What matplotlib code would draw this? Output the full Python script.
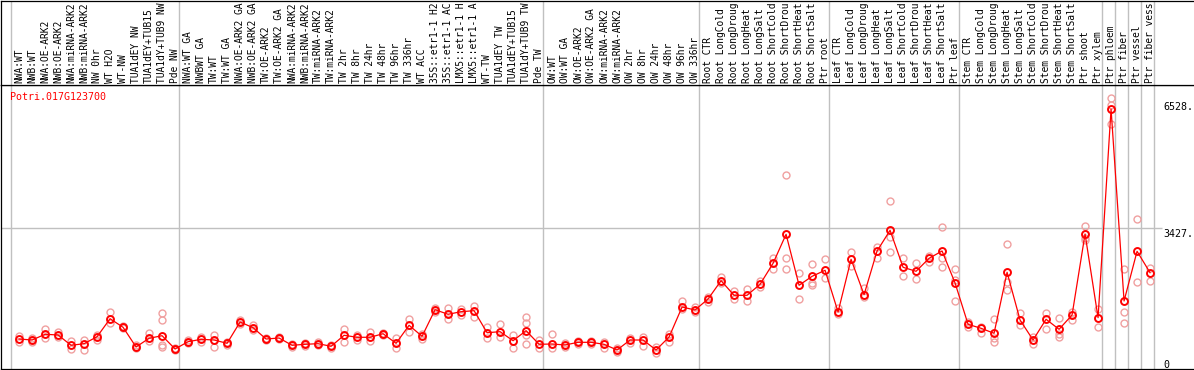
import matplotlib
matplotlib.use("Agg")
import matplotlib.pyplot as plt

gene = "Potri.017G123700"

# column labels as shown in the header (cut to 14 characters there)
labels = [
    # group 1
    "NWA:WT", "NWB:WT", "NWA:OE-ARK2", "NWB:OE-ARK2", "NWA:miRNA-ARK2",
    "NWB:miRNA-ARK2", "NW 0hr", "WT H2O", "WT-NW", "TUA1dEY NW",
    "TUA1dEY+TUB15", "TUA1dY+TUB9 NW", "Pde NW",
    # group 2
    "NWA:WT GA", "NWBWT GA", "TW:WT", "TW:WT GA", "NWA:OE-ARK2 GA",
    "NWB:OE-ARK2 GA", "TW:OE-ARK2", "TW:OE-ARK2 GA", "NWA:miRNA-ARK2",
    "NWB:miRNA-ARK2", "TW:miRNA-ARK2", "TW:miRNA-ARK2", "TW 2hr",
    "TW 8hr", "TW 24hr", "TW 48hr", "TW 96hr", "TW 336hr", "WT ACC",
    "35S::etr1-1 H2", "35S::etr1-1 AC", "LMX5::etr1-1 H",
    "LMX5::etr1-1 A", "WT-TW", "TUA1dEY TW", "TUA1dEY+TUB15",
    "TUA1dY+TUB9 TW", "Pde TW",
    # group 3
    "OW:WT", "OW:WT GA", "OW:OE-ARK2", "OW:OE-ARK2 GA", "OW:miRNA-ARK2",
    "OW:miRNA-ARK2", "OW 2hr", "OW 8hr", "OW 24hr", "OW 48hr", "OW 96hr",
    "OW 336hr",
    # root
    "Root CTR", "Root LongCold", "Root LongDroug", "Root LongHeat",
    "Root LongSalt", "Root ShortCold", "Root ShortDrou", "Root ShortHeat",
    "Root ShortSalt", "Ptr root",
    # leaf
    "Leaf CTR", "Leaf LongCold", "Leaf LongDroug", "Leaf LongHeat",
    "Leaf LongSalt", "Leaf ShortCold", "Leaf ShortDrou", "Leaf ShortHeat",
    "Leaf ShortSalt", "Ptr leaf",
    # stem
    "Stem CTR", "Stem LongCold", "Stem LongDroug", "Stem LongHeat",
    "Stem LongSalt", "Stem ShortCold", "Stem ShortDrou", "Stem ShortHeat",
    "Stem ShortSalt", "Ptr shoot", "Ptr xylem",
    # single tissues
    "Ptr phloem", "Ptr fiber", "Ptr vessel", "Ptr fiber vess",
]

# column index where each group starts (plus the end)
group_edges = [0, 13, 41, 53, 63, 73, 84, 85, 86, 87, 88]

means = [
    534, 508, 657, 639, 370, 412, 594, 1063, 839, 326, 553, 620, 274,
    464, 526, 508, 422, 977, 829, 534, 560, 370, 396, 412, 344, 631, 579,
    579, 672, 422, 891, 605, 1298, 1178, 1246, 1272, 698, 725, 490, 751, 396,
    404, 378, 448, 448, 396, 248, 508, 508, 248, 586, 1368, 1290,
    1577, 2054, 1673, 1673, 1960, 2507, 3263, 1934, 2168, 2325,
    1238, 2611, 1689, 2828, 3367, 2403, 2299, 2637, 2828, 1994,
    917, 813, 683, 2273, 1029, 508, 1048, 787, 1160, 3271, 1089,
    6528, 1525, 2820, 2262,
]

replicates = [
    [620, 464], [568, 464], [795, 553], [709, 594], [482, 274], [508, 248],
    [639, 500], [1230, 943], [881, 813], [378, 308], [683, 482],
    [1204, 1029, 378, 334], [308, 248],
    [508, 422], [594, 464], [639, 334], [464, 378], [1029, 917], [899, 769],
    [568, 500], [594, 526], [396, 326], [430, 360], [448, 378], [378, 308],
    [787, 448], [639, 508], [725, 482], [698, 639], [553, 308], [1056, 725],
    [657, 534], [1350, 1246], [1334, 1048], [1316, 1160], [1402, 1115],
    [855, 568], [917, 594], [639, 308], [1115, 943, 639, 396], [508, 292],
    [657, 292], [422, 334], [482, 412], [482, 412], [448, 308], [308, 203],
    [568, 422], [594, 360], [334, 162], [657, 448], [1525, 1316], [1376, 1230],
    [1637, 1506], [2158, 1986], [1793, 1569], [1830, 1532], [2054, 1897],
    [2653, 2359], [4801, 2637, 2351], [2262, 1569], [2481, 1986, 1942],
    [2611, 2116],
    [1334, 1186], [2794, 2437], [1856, 1637], [2924, 2653], [4123, 3200, 2794],
    [2637, 2168], [2507, 2090], [2697, 2549], [3445, 2637, 2403],
    [2351, 2072, 1525],
    [985, 855], [855, 698], [1048, 553, 464], [3002, 2028, 1811], [1204, 899],
    [594, 396], [1220, 787], [1074, 665, 594], [1246, 1029], [3479, 3159, 3114],
    [1308, 839],
    [6807, 6633, 6138], [2359, 1230, 943], [3654, 2012], [2377, 2046],
]

axis_marks = [6528, 3427, 0]

# layout (pixel based on a 1194x370 canvas)
W, H = 1194, 370
pos = 0.66  # mark position inside a column
xlim = (-0.731, 91.04)
ylim = (-234.6, 7154)

fig = plt.figure(figsize=(W / 100, H / 100), dpi=100)
ax = fig.add_axes([1 / W, (H - 368.5) / H, 1 - 1 / W, (368.5 - 85) / H])
hax = fig.add_axes([1 / W, (H - 85) / H, 1 - 1 / W, (85 - 0.5) / H])

mono = "DejaVu Sans Mono"

for a in (ax, hax):
    a.set_xlim(*xlim)
    a.set_xticks([])
    a.set_yticks([])
    a.spines["right"].set_visible(False)
    for s in ("left", "top", "bottom"):
        a.spines[s].set_linewidth(0.9)
        a.spines[s].set_color("black")
    for e in group_edges:
        a.axvline(e, color="#c0c0c0", lw=1.0, zorder=0)
hax.set_ylim(0, 1)
ax.set_ylim(*ylim)

# header labels
for i, lab in enumerate(labels):
    hax.text(i + pos, 0.025, lab, rotation=90, ha="center", va="bottom",
             fontsize=6.9, family=mono, color="black")

# guide line at the middle mark
ax.hlines(axis_marks[1], xlim[0], 88.6, color="#c0c0c0", lw=1.0, zorder=0)

xs = [i + pos for i in range(len(means))]
for i, reps in enumerate(replicates):
    ax.plot([xs[i]] * len(reps), reps, "o", ms=5, mfc="none",
            mec="#f0a0a0", mew=1.0, zorder=2)
ax.plot(xs, means, "-", color="red", lw=0.9, zorder=3)
ax.plot(xs, means, "o", ms=5, mfc="none", mec="red", mew=1.4, zorder=4)

ax.text(9.5 / W, 0.958, gene, transform=ax.transAxes, color="red",
        fontsize=7.2, family=mono, ha="left", va="center")
ax.text(88.65, axis_marks[0] + 40, f"{axis_marks[0]}.",
        fontsize=7.2, family=mono, ha="left", va="center")
ax.text(88.65, axis_marks[1] - 20, f"{axis_marks[1]}.",
        fontsize=7.2, family=mono, ha="left", va="top")
ax.text(88.65, axis_marks[2] - 20, f"{axis_marks[2]}",
        fontsize=7.2, family=mono, ha="left", va="top")

fig.savefig("out.png", dpi=100)
